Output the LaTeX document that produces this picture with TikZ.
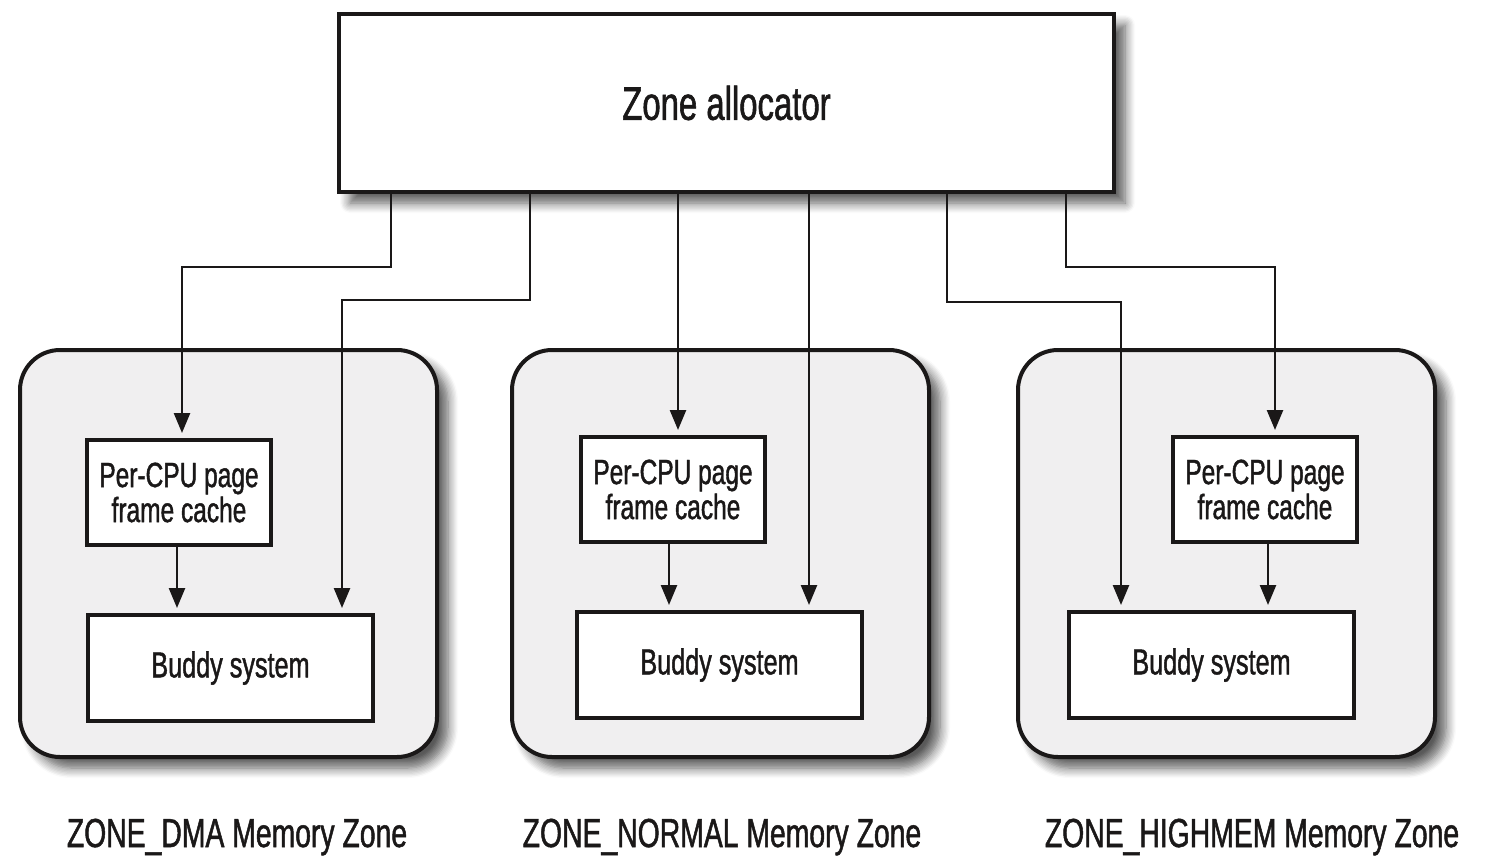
\documentclass[tikz,border=0pt]{standalone}
\usepackage{fontspec}
\setmainfont{Liberation Sans}[FakeStretch=0.7,FakeBold=1.2]
\usetikzlibrary{arrows.meta,shadows.blur}

\definecolor{zonegray}{RGB}{240,239,240}
\definecolor{ink}{RGB}{26,24,24}

\tikzset{
  softshadow/.style={blur shadow={shadow xshift=11pt,shadow yshift=-11pt,
    shadow blur radius=10pt,shadow blur steps=8,shadow opacity=65}},
  allocbox/.style={draw=ink,line width=4pt,fill=white,softshadow,text=ink,
    minimum width=775pt,minimum height=178pt,font=\fontsize{47}{50}\selectfont},
  zonebox/.style={draw=ink,line width=4pt,fill=zonegray,rounded corners=40pt,softshadow,
    minimum width=417pt,minimum height=407pt},
  cachebox/.style={draw=ink,line width=4pt,fill=white,text=ink,align=center,
    minimum width=184pt,minimum height=105pt,inner sep=0pt,font=\fontsize{35}{35}\selectfont},
  buddybox/.style={draw=ink,line width=4pt,fill=white,text=ink,
    minimum width=285pt,minimum height=106pt,font=\fontsize{36}{38}\selectfont},
  zonelabel/.style={anchor=base,text=ink,font=\fontsize{40.5}{42}\selectfont},
  link/.style={draw=ink,line width=2.5pt,-{Triangle[length=20pt,width=16pt]},shorten >=5pt},
}

\begin{document}
\begin{tikzpicture}[x=1pt,y=-1pt]
\useasboundingbox (0,0) rectangle (1486,862);
% memory zones:
\node[zonebox] (zoneA) at (228.5,553.5) {};
\node[zonebox] (zoneB) at (720.5,553.5) {};
\node[zonebox] (zoneC) at (1226.5,553.5) {};
% allocator:
\node[allocbox] (alloc) at (726.5,103) {Zone allocator};
% boxes inside the zones:
\node[cachebox] (cacheA) at (179,492.5) {Per-CPU page\\frame cache};
\node[cachebox] (cacheB) at (673,489.5) {Per-CPU page\\frame cache};
\node[cachebox] (cacheC) at (1265,489.5) {Per-CPU page\\frame cache};
\node[buddybox] (buddyA) at (230.5,668) {Buddy system};
\node[buddybox] (buddyB) at (719.5,665) {Buddy system};
\node[buddybox] (buddyC) at (1211.5,665) {Buddy system};
% zone names:
\node[zonelabel] (nameA) at (237,847) {ZONE\_DMA Memory Zone};
\node[zonelabel] (nameB) at (722,847) {ZONE\_NORMAL Memory Zone};
\node[zonelabel] (nameC) at (1252,847) {ZONE\_HIGHMEM Memory Zone};
% requests from the allocator:
\draw[link] ([xshift=54pt]alloc.south west) -- ++(0,73) -| ([xshift=3pt]cacheA.north);
\draw[link] ([xshift=193pt]alloc.south west) -- ++(0,106) -| ([xshift=-33pt]buddyA.north east);
\draw[link] ([xshift=5pt]cacheB.north |- alloc.south) -- ([xshift=5pt]cacheB.north);
\draw[link] ([xshift=-55pt]buddyB.north east |- alloc.south) -- ([xshift=-55pt]buddyB.north east);
\draw[link] ([xshift=610pt]alloc.south west) -- ++(0,108) -| ([xshift=54pt]buddyC.north west);
\draw[link] ([xshift=729pt]alloc.south west) -- ++(0,73) -| ([xshift=10pt]cacheC.north);
% cache to buddy system:
\draw[link] ([xshift=-2pt]cacheA.south) -- ([xshift=-2pt]cacheA.south |- buddyA.north);
\draw[link] ([xshift=-4pt]cacheB.south) -- ([xshift=-4pt]cacheB.south |- buddyB.north);
\draw[link] ([xshift=3pt]cacheC.south) -- ([xshift=3pt]cacheC.south |- buddyC.north);
\end{tikzpicture}
\end{document}
